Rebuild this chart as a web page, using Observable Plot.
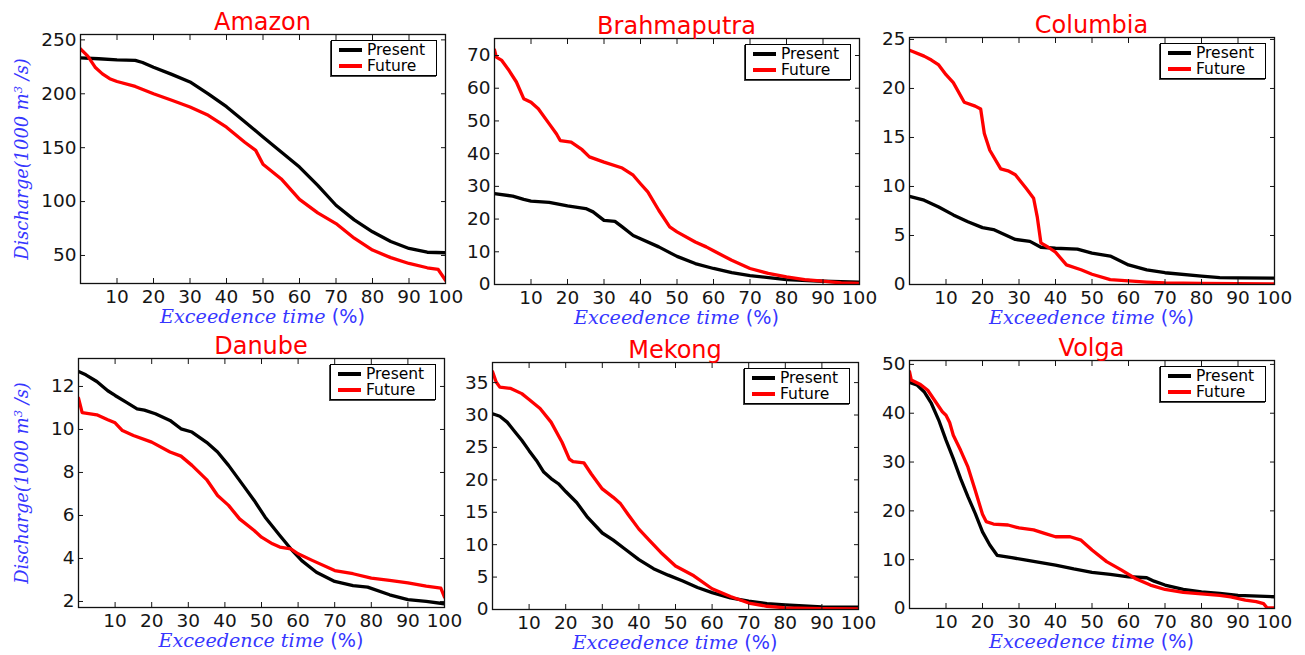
<!DOCTYPE html>
<html><head><meta charset="utf-8">
<script src="https://cdn.jsdelivr.net/npm/d3@7"></script>
<script src="https://cdn.jsdelivr.net/npm/@observablehq/plot@0.6"></script>
<style>
body{margin:0;background:#fff;overflow:hidden;font-family:"DejaVu Sans",sans-serif}
#root{position:relative;width:1305px;height:655px;overflow:hidden}
#root svg{position:absolute}
.title{position:absolute;color:#ff0000;font-size:24px;line-height:24px;transform:translate(-50%,-50%);white-space:nowrap}
.xlab{position:absolute;color:#3636ff;white-space:nowrap;transform:translate(-50%,-50%);line-height:1}
.xlab .m{font-family:"DejaVu Serif",serif;font-style:italic}
.xlab .p{font-family:"DejaVu Sans",sans-serif}
.ylab{position:absolute;color:#3636ff;white-space:nowrap;transform:translate(-50%,-50%) rotate(-90deg);font-family:"DejaVu Serif",serif;font-style:italic;line-height:1}
.leg{position:absolute;border:1.5px solid #000;box-shadow:-1px 1px 0 #444;background:#fff;box-sizing:border-box;font-size:15.5px;line-height:16px;padding-top:1px}
.leg .row{display:flex;align-items:center;height:16px;white-space:nowrap;overflow:visible}
.leg .ln{display:inline-block;width:23px;height:4px;margin:0 5px 0 7px}
</style>
</head><body><div id="root"></div>
<script>
// ---- data: [exceedence %, discharge (1000 m3/s)] ----
const amazonPresent = [[0,233.3],[5,232.5],[10,231.5],[15,231],[17,229],[20,224.7],[25,218],[30,211],[35,200],[40,188],[45,174],[50,160],[55,146],[60,132],[65,115],[70,96.6],[75,83],[80,72],[85,63],[90,56.5],[95,53],[100,52.5]];
const amazonFuture = [[0,241.7],[2,235],[4,224.7],[6,218.5],[8,214],[10,211.4],[15,206.8],[20,200],[25,194],[30,187.7],[35,180],[40,169],[45,155],[48,147.5],[50,134.6],[55,121],[60,102],[65,89.5],[70,79.6],[75,66],[80,55],[85,48],[90,42.6],[95,38.6],[98,37],[100,27]];
const brahmaputraPresent = [[0,27.8],[5,27],[8,26],[10,25.5],[15,25.1],[20,24],[25,23.2],[27,22.2],[30,19.6],[33,19.3],[35,17.6],[38,15],[40,14],[45,11.5],[50,8.6],[55,6.4],[60,4.9],[65,3.6],[70,2.7],[80,1.5],[90,1.0],[100,0.7]];
const brahmaputraFuture = [[0,71.7],[0.5,69.5],[2,68.5],[4,65.4],[6,61.9],[8,56.8],[10,55.7],[12,53.7],[15,49.1],[17,46],[18,44],[21,43.5],[24,41.2],[26,39],[30,37.4],[35,35.6],[38,33.4],[40,30.8],[42,28.3],[45,22.7],[48,17.6],[50,16.1],[55,13],[58,11.5],[60,10.3],[65,7.4],[70,4.9],[75,3.4],[80,2.3],[85,1.5],[90,1.0],[95,0.5],[100,0.3]];
const columbiaPresent = [[0,9.0],[4,8.6],[8,7.9],[12,7.1],[16,6.4],[20,5.8],[23,5.6],[26,5.1],[29,4.6],[33,4.4],[36,3.8],[40,3.7],[46,3.6],[50,3.2],[55,2.9],[60,2.0],[65,1.5],[70,1.2],[80,0.85],[85,0.7],[90,0.68],[100,0.65]];
const columbiaFuture = [[0,23.9],[4,23.3],[6,22.9],[8,22.4],[10,21.4],[12,20.6],[15,18.6],[18,18.2],[19.5,17.9],[20.5,15.4],[22,13.7],[25,11.8],[27,11.6],[29,11.2],[32,9.8],[34,8.8],[35,6.9],[36,4.25],[38,3.8],[40,3.3],[43,2.0],[47,1.5],[50,1.05],[55,0.5],[60,0.37],[65,0.25],[70,0.17],[80,0.1],[100,0.07]];
const danubePresent = [[0,12.7],[2,12.54],[5,12.23],[8,11.8],[10,11.58],[13,11.27],[16,10.96],[18,10.9],[21,10.73],[25,10.42],[28,10.03],[31,9.88],[35,9.4],[38,8.95],[41,8.33],[45,7.4],[48,6.7],[51,5.92],[55,5.07],[58,4.45],[61,3.9],[65,3.36],[70,2.93],[75,2.74],[79,2.67],[85,2.31],[90,2.09],[95,2.0],[100,1.89]];
const danubeFuture = [[0,11.46],[1,10.78],[5,10.68],[8,10.45],[10,10.31],[12,9.95],[15,9.72],[20,9.41],[25,8.95],[28,8.76],[31,8.33],[35,7.67],[38,6.93],[41,6.47],[44,5.84],[48,5.3],[50,4.99],[53,4.68],[55,4.53],[58,4.45],[60,4.22],[64,3.9],[70,3.44],[75,3.29],[80,3.09],[85,2.98],[90,2.87],[95,2.71],[99,2.62],[100,2.2]];
const mekongPresent = [[0,30.2],[2,29.8],[4,28.9],[6,27.5],[8,26.1],[10,24.5],[12,23],[14,21.2],[16,20.2],[18,19.4],[20,18.2],[23,16.5],[26,14.2],[30,11.8],[33,10.7],[36,9.4],[40,7.7],[44,6.3],[48,5.3],[52,4.4],[56,3.4],[60,2.6],[65,1.8],[70,1.3],[75,0.9],[80,0.7],[90,0.4],[100,0.35]];
const mekongFuture = [[0,36.7],[1,35.1],[2,34.3],[5,34.1],[8,33.3],[10,32.4],[13,31],[16,28.9],[19,25.8],[21,23.2],[22,22.8],[25,22.6],[27,20.9],[30,18.6],[33,17.3],[35,16.3],[37,14.7],[40,12.4],[43,10.6],[46,8.8],[50,6.7],[55,5.2],[60,3.2],[65,2.0],[70,1.0],[75,0.5],[80,0.26],[90,0.15],[100,0.1]];
const volgaPresent = [[0,46.3],[2,45.8],[4,44.4],[6,42],[8,38.6],[10,34.5],[12,30.7],[14,26.6],[16,22.9],[18,19.5],[20,15.7],[22,13],[24,10.9],[28,10.4],[32,9.9],[36,9.4],[40,8.9],[45,8.1],[50,7.4],[55,7.0],[60,6.5],[65,6.3],[67,5.6],[70,4.8],[75,3.9],[80,3.4],[85,3.1],[90,2.7],[100,2.4]];
const volgaFuture = [[0,48.5],[0.5,46.8],[3,45.9],[5,44.7],[7,42.5],[9,40.3],[10,39.6],[11,38.1],[12,35.5],[14,32.4],[16,29],[18,24.2],[20,19.3],[21,17.8],[23,17.3],[27,17.1],[30,16.5],[34,16.1],[37,15.4],[40,14.7],[44,14.7],[47,14],[50,12],[54,9.6],[58,7.9],[62,6.1],[66,4.8],[70,3.9],[75,3.3],[80,3.0],[85,2.7],[88,2.4],[92,1.7],[95,1.4],[97,1.0],[98,0.1],[100,0.1]];

const xTicks = [10,20,30,40,50,60,70,80,90,100];
const amazonTicks = [50,100,150,200,250];
const brahmaputraTicks = [0,10,20,30,40,50,60,70];
const columbiaTicks = [0,5,10,15,20,25];
const danubeTicks = [2,4,6,8,10,12];
const mekongTicks = [0,5,10,15,20,25,30,35];
const volgaTicks = [0,10,20,30,40,50];
const seriesNames = ["Present","Future"];
const seriesColors = ["black","red"];

const panels = [
  {name:"Amazon", present:amazonPresent, future:amazonFuture, y:[24,255], ticks:amazonTicks, frame:[80,34,445,283], ylab:true},
  {name:"Brahmaputra", present:brahmaputraPresent, future:brahmaputraFuture, y:[0,75.2], ticks:brahmaputraTicks, frame:[494,38,859,284]},
  {name:"Columbia", present:columbiaPresent, future:columbiaFuture, y:[0,25.2], ticks:columbiaTicks, frame:[909,37,1274,284]},
  {name:"Danube", present:danubePresent, future:danubeFuture, y:[1.72,13.3], ticks:danubeTicks, frame:[78,358,444,607], ylab:true},
  {name:"Mekong", present:mekongPresent, future:mekongFuture, y:[0,38.1], ticks:mekongTicks, frame:[492,362,858,609]},
  {name:"Volga", present:volgaPresent, future:volgaFuture, y:[0,50.8], ticks:volgaTicks, frame:[909,360,1274,608]}
];

const root = document.getElementById("root");
function fit(el, target){
  root.appendChild(el);
  const w = el.scrollWidth || el.getBoundingClientRect().width;
  const fs = parseFloat(el.style.fontSize);
  el.style.fontSize = (fs*target/w).toFixed(2)+"px";
}
for (const p of panels){
  const [x0,y0,x1,y1] = p.frame;
  const mL=70,mR=25,mT=10,mB=30;
  const data = [
    ...p.present.map(([x,y])=>({x,y,s:"Present"})),
    ...p.future.map(([x,y])=>({x,y,s:"Future"}))
  ];
  const svg = Plot.plot({
    width:x1-x0+mL+mR, height:y1-y0+mT+mB,
    marginLeft:mL, marginRight:mR, marginTop:mT, marginBottom:mB,
    x:{domain:[0,100], label:null},
    y:{domain:p.y, label:null},
    color:{domain:seriesNames, range:seriesColors},
    style:{background:"transparent", overflow:"visible", fontFamily:"DejaVu Sans", fontSize:"18.5px", color:"#151515"},
    marks:[
      Plot.line(data,{x:"x", y:"y", z:"s", stroke:"s", strokeWidth:3.3, clip:true, strokeLinejoin:"round"}),
      Plot.axisX({ticks:xTicks, anchor:"bottom", tickSize:-5, tickPadding:11, label:null}),
      Plot.axisX({ticks:xTicks, anchor:"top", tickSize:-5, tickFormat:()=>"", label:null}),
      Plot.axisY({ticks:p.ticks, anchor:"left", tickSize:-5, tickPadding:9, label:null}),
      Plot.axisY({ticks:p.ticks, anchor:"right", tickSize:-5, tickFormat:()=>"", label:null}),
      Plot.frame({stroke:"#111", strokeWidth:1.3})
    ]
  });
  svg.style.left = (x0-mL)+"px";
  svg.style.top = (y0-mT)+"px";
  root.appendChild(svg);

  const cx = (x0+x1)/2;
  const t = document.createElement("div");
  t.className="title"; t.textContent=p.name;
  t.style.left=cx+"px"; t.style.top=(y0-12)+"px";
  root.appendChild(t);

  const xl = document.createElement("div");
  xl.className="xlab"; xl.style.fontSize="20px";
  xl.innerHTML = '<span class="m">Exceedence time </span><span class="p">(%)</span>';
  xl.style.left=cx+"px"; xl.style.top=(y1+34)+"px";
  fit(xl,205);

  if (p.ylab){
    const yl = document.createElement("div");
    yl.className="ylab"; yl.style.fontSize="18px";
    yl.innerHTML = 'Discharge(1000 m<sup style="font-size:0.65em;vertical-align:0.55em">3</sup> /s)';
    yl.style.left="22px"; yl.style.top=((y0+y1)/2)+"px";
    fit(yl,202);
  }

  const lg = document.createElement("div");
  lg.className="leg";
  lg.style.width="106px"; lg.style.height="36px";
  lg.style.left=(x1-8-106)+"px"; lg.style.top=(y0+6)+"px";
  seriesNames.forEach((n,i)=>{
    const r=document.createElement("div"); r.className="row";
    const l=document.createElement("span"); l.className="ln"; l.style.background=seriesColors[i];
    r.appendChild(l); r.appendChild(document.createTextNode(n));
    lg.appendChild(r);
  });
  root.appendChild(lg);
}
</script>
</body></html>
